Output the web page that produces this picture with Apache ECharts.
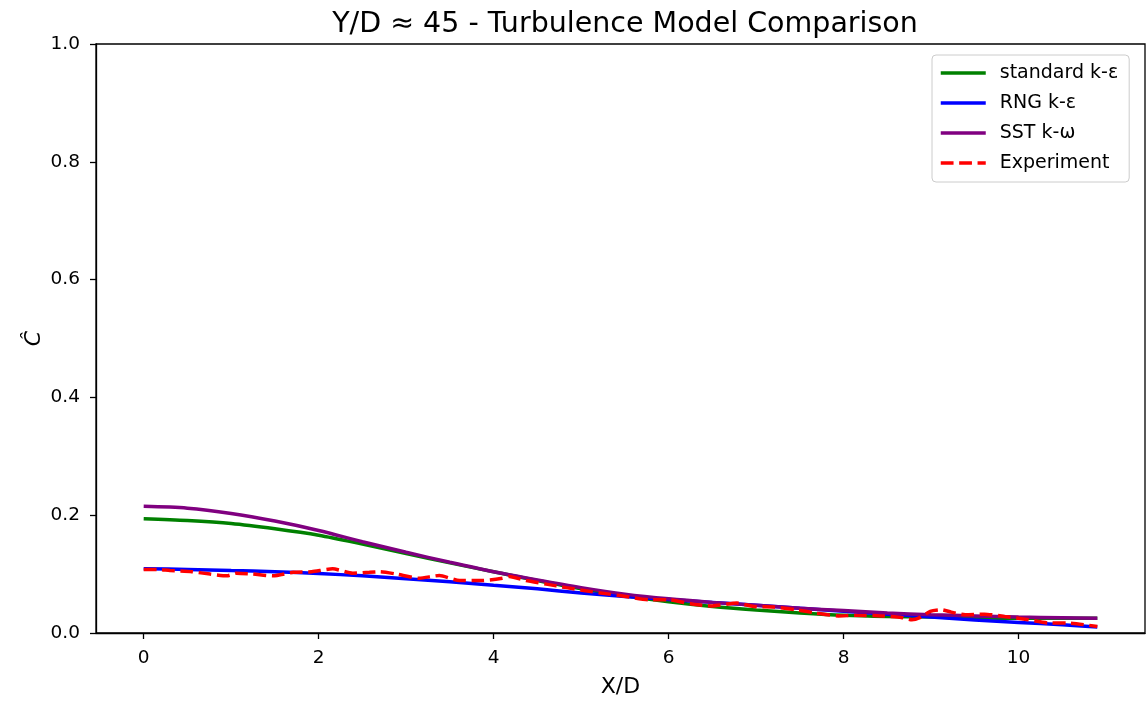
<!DOCTYPE html>
<html>
<head>
<meta charset="utf-8">
<script src="https://cdn.jsdelivr.net/npm/echarts@6/dist/echarts.min.js"></script>
<style>
  html, body { margin: 0; padding: 0; background: #fff; }
  #chart { width: 1146px; height: 703px; }
</style>
</head>
<body>
<div id="chart"></div>
<script>
// model curves (X/D vs C-hat)
var xModel = [0, 0.5, 1, 1.5, 2, 2.5, 3, 3.5, 4, 4.5, 5, 5.5, 6, 6.5, 7, 7.5, 8, 8.5, 9, 9.5, 10, 10.5, 10.9];
var stdKE = [0.194, 0.191, 0.186, 0.177, 0.166, 0.151, 0.135, 0.119, 0.104, 0.089, 0.075, 0.063, 0.053, 0.045, 0.039, 0.034, 0.030, 0.028, 0.027, 0.026, 0.025, 0.025, 0.025];
var rngKE = [0.109, 0.108, 0.106, 0.104, 0.101, 0.097, 0.092, 0.087, 0.081, 0.075, 0.068, 0.062, 0.057, 0.052, 0.047, 0.042, 0.037, 0.032, 0.027, 0.022, 0.018, 0.014, 0.010];
var sstKW = [0.215, 0.212, 0.203, 0.190, 0.174, 0.155, 0.137, 0.120, 0.104, 0.090, 0.077, 0.066, 0.058, 0.052, 0.047, 0.042, 0.038, 0.034, 0.031, 0.029, 0.027, 0.026, 0.025];

// experiment
var xExp = [0, 0.15, 0.30, 0.55, 0.76, 0.95, 1.06, 1.25, 1.48, 1.71, 1.92, 2.16, 2.39, 2.58, 2.70, 2.89, 3.15, 3.38, 3.61, 3.87, 4.10, 4.18, 4.37, 4.60, 4.83, 5.05, 5.32, 5.55, 5.78, 6.00, 6.25, 6.50, 6.78, 6.97, 7.20, 7.45, 7.68, 7.94, 8.13, 8.44, 8.66, 8.78, 8.87, 8.99, 9.12, 9.23, 9.39, 9.61, 9.84, 10.11, 10.34, 10.56, 10.9];
var yExp = [0.108, 0.108, 0.106, 0.104, 0.100, 0.097, 0.1015, 0.100, 0.097, 0.103, 0.104, 0.109, 0.1015, 0.103, 0.104, 0.100, 0.093, 0.0976, 0.089, 0.089, 0.093, 0.096, 0.089, 0.083, 0.077, 0.0716, 0.066, 0.061, 0.0564, 0.0564, 0.0496, 0.046, 0.0508, 0.045, 0.044, 0.0395, 0.034, 0.029, 0.030, 0.029, 0.0265, 0.0225, 0.026, 0.0367, 0.0395, 0.0355, 0.031, 0.032, 0.028, 0.0225, 0.017, 0.017, 0.011];

var xTicks = [0, 2, 4, 6, 8, 10];
var seriesNames = ['standard k-ε', 'RNG k-ε', 'SST k-ω', 'Experiment'];
var colors = ['#008000', '#0000ff', '#800080', '#ff0000'];

function pairs(xs, ys) {
  var out = [];
  for (var i = 0; i < xs.length; i++) out.push([xs[i], ys[i]]);
  return out;
}

var font = 'DejaVu Sans';
var chart = echarts.init(document.getElementById('chart'));

// legend entries: line only, no marker
var legendData = [];
for (var i = 0; i < seriesNames.length; i++) {
  legendData.push({
    name: seriesNames[i],
    itemStyle: { opacity: 0 },
    lineStyle: { color: colors[i], width: 3.5, type: i == 3 ? [12.8, 5.6] : 'solid' }
  });
}

chart.setOption({
  backgroundColor: '#fff',
  animation: false,
  title: {
    text: 'Y/D ≈ 45 - Turbulence Model Comparison',
    left: 620,
    textAlign: 'center',
    top: 5,
    textStyle: { fontFamily: font, fontSize: 28.5, fontWeight: 'normal', color: '#000' }
  },
  grid: {
    left: 96, right: 1, top: 44, bottom: 68,
    show: true, borderColor: '#000', borderWidth: 1.3
  },
  legend: {
    orient: 'vertical',
    left: 932, top: 55,
    padding: [8, 11, 9, 7],
    itemWidth: 45, itemHeight: 14, itemGap: 10,
    backgroundColor: 'rgba(255,255,255,0.8)',
    borderColor: '#cccccc', borderWidth: 1, borderRadius: 4,
    data: legendData,
    textStyle: { fontFamily: font, fontSize: 19, color: '#000', lineHeight: 20, padding: [0, 0, 0, 9] }
  },
  xAxis: {
    type: 'value',
    min: -0.545, max: 11.445,
    name: 'X/D',
    nameLocation: 'middle',
    nameGap: 43,
    nameTextStyle: { fontFamily: font, fontSize: 22, color: '#000' },
    splitLine: { show: false },
    axisLine: { show: true, onZero: false, lineStyle: { color: '#000', width: 1.3 } },
    axisTick: { show: true, length: 6, lineStyle: { color: '#000', width: 1.3 }, customValues: xTicks },
    axisLabel: { fontFamily: font, fontSize: 18.5, color: '#000', margin: 16, customValues: xTicks }
  },
  yAxis: {
    type: 'value',
    min: 0, max: 1, interval: 0.2,
    name: 'Ĉ',
    nameLocation: 'middle',
    nameGap: 51,
    nameMoveOverlap: false,
    nameRotate: 90,
    nameTextStyle: { fontFamily: font, fontSize: 22, fontStyle: 'italic', color: '#000' },
    splitLine: { show: false },
    axisLine: { show: true, onZero: false, lineStyle: { color: '#000', width: 1.3 } },
    axisTick: { show: true, length: 6, lineStyle: { color: '#000', width: 1.3 } },
    axisLabel: {
      fontFamily: font, fontSize: 18.5, color: '#000', margin: 16,
      formatter: function (v) { return v.toFixed(1); }
    }
  },
  series: [
    {
      name: seriesNames[0], type: 'line', data: pairs(xModel, stdKE),
      smooth: 0.3, symbol: 'none', color: colors[0],
      lineStyle: { color: colors[0], width: 3.5 }
    },
    {
      name: seriesNames[1], type: 'line', data: pairs(xModel, rngKE),
      smooth: 0.3, symbol: 'none', color: colors[1],
      lineStyle: { color: colors[1], width: 3.5 }
    },
    {
      name: seriesNames[2], type: 'line', data: pairs(xModel, sstKW),
      smooth: 0.3, symbol: 'none', color: colors[2],
      lineStyle: { color: colors[2], width: 3.5 }
    },
    {
      name: seriesNames[3], type: 'line', data: pairs(xExp, yExp),
      smooth: 0.2, symbol: 'none', color: colors[3],
      lineStyle: { color: colors[3], width: 3.5, type: [12.8, 5.6] }
    }
  ]
});
</script>
</body>
</html>
